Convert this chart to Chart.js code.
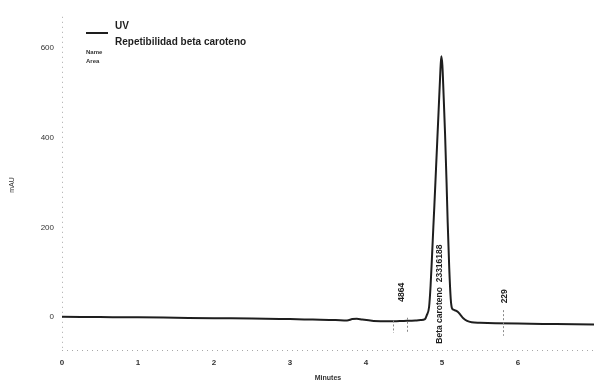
<!DOCTYPE html>
<html>
<head>
<meta charset="utf-8">
<script src="https://cdn.jsdelivr.net/npm/chart.js@4/dist/chart.umd.min.js"></script>
<style>
  html, body { margin: 0; padding: 0; background: #fff; }
  #c { display: block; }
</style>
</head>
<body>
<canvas id="c" width="595" height="385"></canvas>
<script>
// Chromatogram trace: retention time (min) and detector response (mAU)
const times = [0, 0.5, 1, 1.5, 2, 2.5, 3, 3.3, 3.6, 3.75, 3.82, 3.88, 3.95, 4.1, 4.3, 4.5, 4.65, 4.72,
  4.776, 4.80, 4.83, 4.85, 4.87, 4.886, 4.90, 4.921, 4.954, 4.975, 4.99,
  5.005, 5.02, 5.04, 5.06, 5.075, 5.095, 5.115, 5.13, 5.15, 5.18, 5.21, 5.24, 5.28, 5.33, 5.39,
  5.5, 5.7, 6.0, 6.5, 7.0];
const mAU = [0, -0.5, -1, -2, -3, -3.5, -5, -6, -7, -8, -5, -4, -6, -9, -10, -9, -8, -7,
  -5, 4, 22, 70, 140, 200, 250, 330, 455, 535, 582,
  562, 500, 410, 300, 210, 110, 40, 20, 16, 14, 11, 5, -3, -9, -12,
  -13, -14, -15, -16, -17];

// Axis ticks
const xTicks = [0, 1, 2, 3, 4, 5, 6];
const yTicks = [0, 200, 400, 600];

// Integrated peaks: retention time, label, area marks
const peakTimes = [4.47, 4.97, 5.83];
const peakNames = ["4864", "Beta caroteno  23316188", "229"];
const markTimes = [4.36, 4.54, 5.80];

const legendTitle = "UV";
const legendSeries = "Repetibilidad beta caroteno";
const legendFields = ["Name", "Area"];

const FONT = "'Liberation Sans', Arial, sans-serif";
const INK = '#1e1e1e';

// dotted axis lines along the left and bottom of the plot
const dottedAxes = {
  id: 'dottedAxes',
  beforeDatasetsDraw(chart) {
    const ctx = chart.ctx, a = chart.chartArea;
    ctx.save();
    ctx.strokeStyle = '#a8a8a8';
    ctx.lineWidth = 1;
    ctx.setLineDash([1, 4]);
    ctx.beginPath();
    ctx.moveTo(a.left + 0.5, a.top + 4);
    ctx.lineTo(a.left + 0.5, a.bottom);
    ctx.moveTo(a.left, a.bottom + 0.5);
    ctx.lineTo(a.right, a.bottom + 0.5);
    ctx.stroke();
    ctx.restore();
  }
};

const annotations = {
  id: 'annotations',
  afterDatasetsDraw(chart) {
    const ctx = chart.ctx;
    const xs = chart.scales.x, ys = chart.scales.y;
    const area = chart.chartArea;
    ctx.save();

    // integration marks (short dotted verticals)
    ctx.strokeStyle = '#888';
    ctx.lineWidth = 1;
    ctx.setLineDash([2, 2]);
    const markSpan = [[-8, -36], [-2, -36], [15, -42]];
    markTimes.forEach((t, i) => {
      const px = Math.round(xs.getPixelForValue(t)) + 0.5;
      ctx.beginPath();
      ctx.moveTo(px, ys.getPixelForValue(markSpan[i][0]));
      ctx.lineTo(px, ys.getPixelForValue(markSpan[i][1]));
      ctx.stroke();
    });
    ctx.setLineDash([]);

    // vertical peak labels
    ctx.fillStyle = INK;
    ctx.font = 'bold 8.5px ' + FONT;
    ctx.textBaseline = 'middle';
    const anchors = [{ v: 55, align: 'center' }, { v: -60, align: 'left' }, { v: 46, align: 'center' }];
    peakTimes.forEach((t, i) => {
      const px = xs.getPixelForValue(t);
      const py = ys.getPixelForValue(anchors[i].v);
      ctx.save();
      ctx.translate(px, py);
      ctx.rotate(-Math.PI / 2);
      ctx.textAlign = anchors[i].align;
      ctx.fillText(peakNames[i], 0, 0);
      ctx.restore();
    });

    // legend block
    ctx.strokeStyle = INK;
    ctx.lineWidth = 2;
    ctx.beginPath();
    ctx.moveTo(area.left + 24, 33);
    ctx.lineTo(area.left + 46, 33);
    ctx.stroke();
    ctx.textAlign = 'left';
    ctx.font = 'bold 10px ' + FONT;
    ctx.fillText(legendTitle, area.left + 53, 26.5);
    ctx.fillText(legendSeries, area.left + 53, 42);
    ctx.font = 'bold 6px ' + FONT;
    ctx.fillStyle = '#333';
    ctx.fillText(legendFields[0], area.left + 24, 52);
    ctx.fillText(legendFields[1], area.left + 24, 61.5);

    // axis titles
    ctx.font = 'bold 7px ' + FONT;
    ctx.textAlign = 'center';
    ctx.fillText('Minutes', (area.left + area.right) / 2, 378);
    ctx.save();
    ctx.translate(12, 185);
    ctx.rotate(-Math.PI / 2);
    ctx.font = '7px ' + FONT;
    ctx.fillText('mAU', 0, 0);
    ctx.restore();

    ctx.restore();
  }
};

new Chart(document.getElementById('c'), {
  type: 'line',
  data: {
    datasets: [{
      data: times.map((t, i) => ({ x: t, y: mAU[i] })),
      borderColor: INK,
      borderWidth: 2,
      pointRadius: 0,
      fill: false,
      cubicInterpolationMode: 'monotone'
    }]
  },
  options: {
    responsive: false,
    animation: false,
    events: [],
    layout: { padding: { top: 3, right: 1, left: 0, bottom: 0 } },
    plugins: { legend: { display: false }, tooltip: { enabled: false } },
    scales: {
      x: {
        type: 'linear',
        min: 0,
        max: 7,
        grid: { display: false, drawTicks: false },
        border: { display: false },
        afterBuildTicks: s => { s.ticks = xTicks.map(v => ({ value: v })); },
        afterFit: s => { s.height = 35; },
        ticks: { font: { family: FONT, size: 8, weight: 'bold' }, color: '#333', padding: 8, maxRotation: 0 }
      },
      y: {
        type: 'linear',
        min: -74,
        max: 679,
        grid: { display: false, drawTicks: false },
        border: { display: false },
        afterBuildTicks: s => { s.ticks = yTicks.map(v => ({ value: v })); },
        afterFit: s => { s.width = 62; },
        ticks: { font: { family: FONT, size: 8 }, color: '#333', padding: 8 }
      }
    }
  },
  plugins: [dottedAxes, annotations]
});
</script>
</body>
</html>
